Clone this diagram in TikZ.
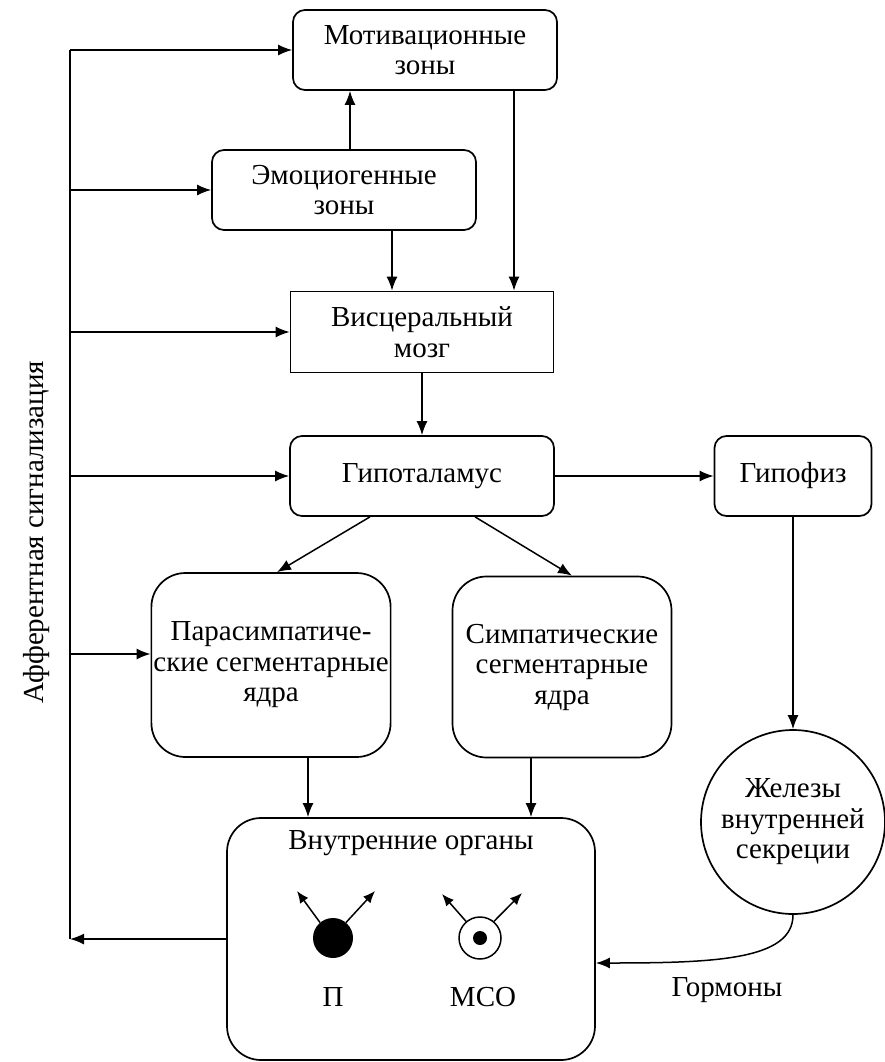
\documentclass[tikz,border=0pt]{standalone}
\usepackage{fontspec}
\setmainfont{Liberation Serif}
\usetikzlibrary{arrows.meta}

\begin{document}
\begin{tikzpicture}[
  x=1pt, y=-1pt,
  box/.style={draw, line width=1.7pt, align=center, font=\fontsize{29}{30.5}\selectfont, inner sep=2pt},
  zonebox/.style={box, rounded corners=12pt, minimum width=264pt, minimum height=80pt},
  nucbox/.style={box, rounded corners=34pt},
  glandnode/.style={box, circle, minimum size=184pt},
  arr/.style={-{Latex[length=14pt, width=11pt]}, line width=1.5pt},
  smallarr/.style={-{Latex[length=12pt, width=10pt]}, line width=1.5pt},
  lbl/.style={font=\fontsize{29}{30.5}\selectfont},
]
  \useasboundingbox (0,0) rectangle (884,1062);

  % Brain levels
  \node[zonebox] (motiv) at (425,50) {Мотивационные\\зоны};
  \node[zonebox] (emo) at (344,190) {Эмоциогенные\\зоны};
  \node[box, minimum width=263pt, minimum height=81pt] (visc) at (422,332) {Висцеральный\\мозг};
  \node[zonebox] (hypo) at (422,476) {Гипоталамус};
  \node[zonebox, minimum width=157pt] (hypoph) at (793,476) {Гипофиз};

  % Segmentary nuclei
  \node[nucbox, minimum width=238pt, minimum height=184pt] (para) at (271,665) {Парасимпатиче-\\ские сегментарные\\ядра};
  \node[nucbox, minimum width=219pt, minimum height=181pt] (symp) at (562,667) {Симпатические\\сегментарные\\ядра};
  \node[glandnode] (gland) at (793,822) {Железы\\внутренней\\секреции};

  % Internal organs
  \node[nucbox, minimum width=368pt, minimum height=242pt] (organs) at (411,939) {};
  \node[lbl] (organstitle) at (411,843) {Внутренние органы};
  \node[circle, fill=black, minimum size=40pt, inner sep=0pt] (pcell) at (333,938) {};
  \node[circle, draw, line width=1.5pt, minimum size=42pt, inner sep=0pt] (mcell) at (480,938) {};
  \fill (mcell.center) circle (7pt);
  \node[lbl] (plabel) at (333,997) {П};
  \node[lbl] (mlabel) at (483,997) {МСО};
  \coordinate (pleft) at (297,891);
  \coordinate (pright) at (375,891);
  \coordinate (mleft) at (442,894);
  \coordinate (mright) at (522,893);

  % Afferent line
  \coordinate (aff) at (70,0);
  \node[lbl, rotate=90] (afflabel) at (37,532) {Афферентная сигнализация};
  \node[lbl] (horm) at (727,990) {Гормоны};

  % Arrows
  \draw[line width=1.5pt] (aff |- motiv.west) -- (aff |- organs.west);
  \draw[arr] (aff |- motiv.west) -- (motiv.west);
  \draw[arr] (aff |- emo.west) -- (emo.west);
  \draw[arr] (aff |- visc.west) -- (visc.west);
  \draw[arr] (aff |- hypo.west) -- (hypo.west);
  \draw[arr] ([yshift=11pt]aff |- para.west) -- ([yshift=11pt]para.west);
  \draw[arr] (organs.west) -- (aff |- organs.west);

  \draw[arr] ([xshift=6pt]emo.north) -- ([xshift=-75pt]motiv.south);
  \draw[arr] ([xshift=89pt]motiv.south) -- ([xshift=92pt]visc.north);
  \draw[arr] ([xshift=48pt]emo.south) -- ([xshift=-30pt]visc.north);
  \draw[arr] (visc.south) -- (hypo.north);
  \draw[arr] (hypo.east) -- (hypoph.west);
  \draw[arr] ([xshift=-52pt]hypo.south) -- ([xshift=6pt]para.north);
  \draw[arr] ([xshift=53pt]hypo.south) -- ([xshift=10pt]symp.north);
  \draw[arr] ([xshift=37pt]para.south) -- ([xshift=-103pt]organs.north);
  \draw[arr] ([xshift=-31pt]symp.south) -- ([xshift=120pt]organs.north);
  \draw[arr] (hypoph.south) -- (gland.north);
  \draw[arr] (gland.south) .. controls +(0,45) and +(120,0) .. ([yshift=-24pt]organs.east);

  \draw[smallarr] (pcell.130) -- (pleft);
  \draw[smallarr] (pcell.50) -- (pright);
  \draw[smallarr] (mcell.130) -- (mleft);
  \draw[smallarr] (mcell.50) -- (mright);
\end{tikzpicture}
\end{document}
